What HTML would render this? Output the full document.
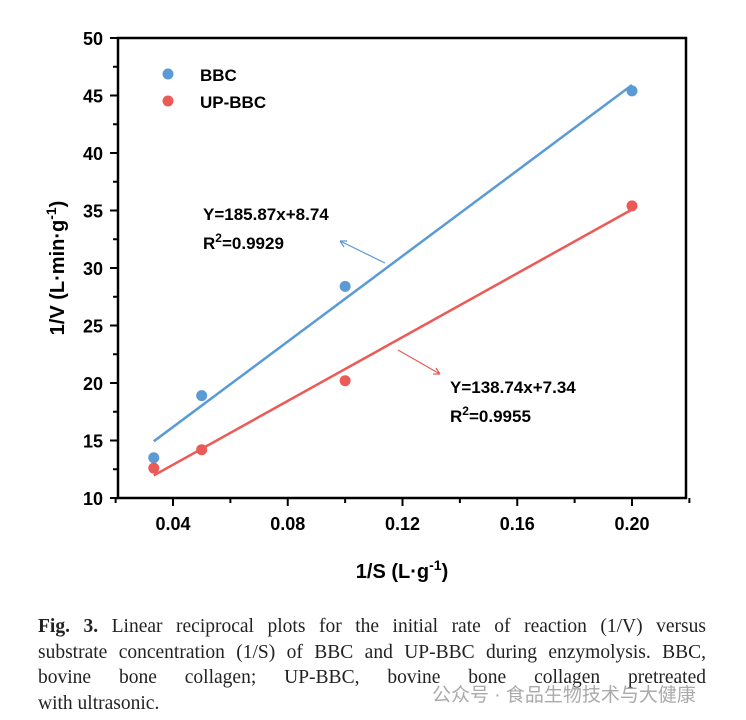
<!DOCTYPE html>
<html><head><meta charset="utf-8"><style>
body{margin:0;background:#fff;width:746px;height:720px;overflow:hidden;font-family:"Liberation Sans",sans-serif}
.cap{position:absolute;left:38px;top:614px;width:668px;font-family:"Liberation Serif",serif;font-size:19.5px;line-height:25.5px;color:#222}
.cap div{text-align:justify;text-align-last:justify;white-space:nowrap}
.cap div.last{text-align-last:left}
.wm{position:absolute;left:432px;top:680px;font-family:"Liberation Sans","Noto Sans CJK SC",sans-serif;font-size:19px;color:#aaa}
</style></head><body>
<svg id="c" width="746" height="600" style="position:absolute;left:0;top:0"></svg>
<div class="cap">
<div><b>Fig. 3.</b> Linear reciprocal plots for the initial rate of reaction (1/V) versus</div>
<div>substrate concentration (1/S) of BBC and UP-BBC during enzymolysis. BBC,</div>
<div>bovine bone collagen; UP-BBC, bovine bone collagen pretreated</div>
<div class="last">with ultrasonic.</div>
</div>
<div class="wm">公众号 · 食品生物技术与大健康</div>
<script>
const xs=[0.0333,0.05,0.1,0.2];
const bbc=[13.5,18.9,28.4,45.4];
const up=[12.6,14.2,20.2,35.4];
const bbcFit=[185.87,8.74];
const upFit=[138.74,7.34];
const xTicks=[0.04,0.08,0.12,0.16,0.20];
const xTickLabels=["0.04","0.08","0.12","0.16","0.20"];
const yTicks=[10,15,20,25,30,35,40,45,50];
const svg=document.getElementById('c');const NS='http://www.w3.org/2000/svg';
const X=v=>173+(v-0.04)*(632-173)/0.16;
const Y=v=>498-(v-10)*460/40;
function el(t,a,txt){const e=document.createElementNS(NS,t);for(const k in a)e.setAttribute(k,a[k]);if(txt!=null)e.textContent=txt;svg.appendChild(e);return e;}
let f=el('rect',{x:118,y:38,width:568,height:460,fill:'none',stroke:'#000','stroke-width':2.5});

for(let i=0;i<xTicks.length;i++){const x=X(xTicks[i]);
 let t=el('line',{x1:x,x2:x,y1:498,y2:506,stroke:'#000','stroke-width':2});
 let m=el('line',{x1:X(xTicks[i]+0.02),x2:X(xTicks[i]+0.02),y1:498,y2:503,stroke:'#000','stroke-width':2});
 let l=el('text',{x:x,y:530,'text-anchor':'middle','font-size':18,'font-weight':'bold'},xTickLabels[i]);}
let m0=el('line',{x1:X(0.02),x2:X(0.02),y1:498,y2:503,stroke:'#000','stroke-width':2});
for(const v of yTicks){const y=Y(v);
 let t=el('line',{x1:110,x2:118,y1:y,y2:y,stroke:'#000','stroke-width':2});
 if(v<50){let m=el('line',{x1:113,x2:118,y1:Y(v+2.5),y2:Y(v+2.5),stroke:'#000','stroke-width':2});}
 let l=el('text',{x:103,y:y+7,'text-anchor':'end','font-size':18,'font-weight':'bold'},String(v));}
let xt=el('text',{x:402,y:578,'text-anchor':'middle','font-size':20,'font-weight':'bold'});xt.innerHTML='1/S (L·g<tspan dy="-8" font-size="14">-1</tspan><tspan dy="8">)</tspan>';

let yt=el('text',{transform:'translate(64,268) rotate(-90)','text-anchor':'middle','font-size':20,'font-weight':'bold'});yt.innerHTML='1/V (L·min·g<tspan dy="-8" font-size="14">-1</tspan><tspan dy="8">)</tspan>';

function series(ys,fit,col,name){const x0=xs[0],x1=xs[xs.length-1];
 let ln=el('line',{x1:X(x0),y1:Y(fit[0]*x0+fit[1]),x2:X(x1),y2:Y(fit[0]*x1+fit[1]),stroke:col,'stroke-width':2.5});
 
 ys.forEach((v,i)=>{let c=el('circle',{cx:X(xs[i]),cy:Y(v),r:5.5,fill:col});});}
series(bbc,bbcFit,'#5b9bd5','bbc');series(up,upFit,'#ec5a57','up-bbc');
let a=el('circle',{cx:168,cy:74,r:5.5,fill:'#5b9bd5'});
let b=el('circle',{cx:168,cy:101,r:5.5,fill:'#ec5a57'});
let lt1=el('text',{x:200,y:81,'font-size':17,'font-weight':'bold'},'BBC');
let lt2=el('text',{x:200,y:108,'font-size':17,'font-weight':'bold'},'UP-BBC');
let e1=el('text',{x:203,y:220,'font-size':17,'font-weight':'bold'},'Y=185.87x+8.74');
let r1=el('text',{x:203,y:249,'font-size':17,'font-weight':'bold'});r1.innerHTML='R<tspan dy="-7" font-size="12">2</tspan><tspan dy="7">=0.9929</tspan>';
let e2=el('text',{x:450,y:393,'font-size':17,'font-weight':'bold'},'Y=138.74x+7.34');
let r2=el('text',{x:450,y:422,'font-size':17,'font-weight':'bold'});r2.innerHTML='R<tspan dy="-7" font-size="12">2</tspan><tspan dy="7">=0.9955</tspan>';
let ar1=el('path',{d:'M385,263 L340,241 M340,241 l7,0 M340,241 l4,6',stroke:'#5b9bd5','stroke-width':1.2,fill:'none'});
let ar2=el('path',{d:'M398,350 L440,374 M440,374 l-7,0 M440,374 l-4,-6',stroke:'#ec5a57','stroke-width':1.2,fill:'none'});
</script>
</body></html>
